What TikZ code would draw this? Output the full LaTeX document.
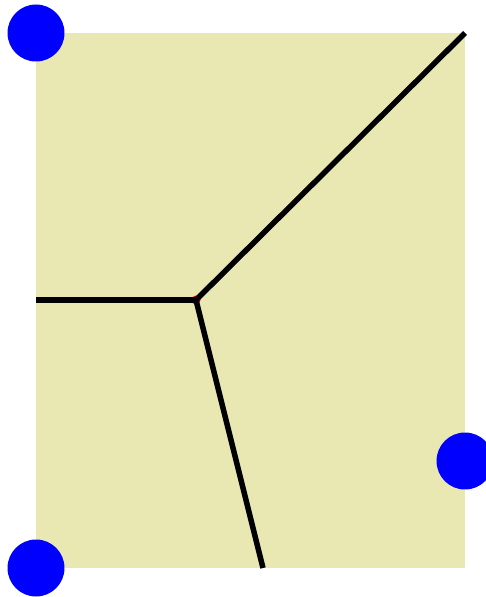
\documentclass[tikz,border=0pt]{standalone}
\usepackage{tikz}
\usetikzlibrary{positioning, calc, backgrounds}
\usepackage{xcolor}
\definecolor{cellfill}{RGB}{233,232,179}

\begin{document}
\begin{tikzpicture}[x=0.02cm, y=-0.02cm,
    site/.style={circle, fill=blue, minimum size=1.14cm, inner sep=0pt},
    vertex/.style={circle, fill=red, minimum size=0.18cm, inner sep=0pt},
    edge/.style={line width=0.11cm}]
\useasboundingbox (0,0) rectangle (485,597);
% 区域
\fill[cellfill] (36,33) rectangle (465,568);
% 顶点与边界点
\node[vertex] (v) at (196,300) {};
\coordinate (bl) at (36,300);
\coordinate (tr) at (465,33);
\coordinate (bb) at (263,568);
% 边
\draw[edge] (v.center) -- (tr);
\draw[edge] (v.center) -- (bl);
\draw[edge] (v.center) -- (bb);
% 站点
\node[site] (s1) at (36,33) {};
\node[site] (s2) at (36,568) {};
\node[site] (s3) at (465,461) {};
\end{tikzpicture}
\end{document}
